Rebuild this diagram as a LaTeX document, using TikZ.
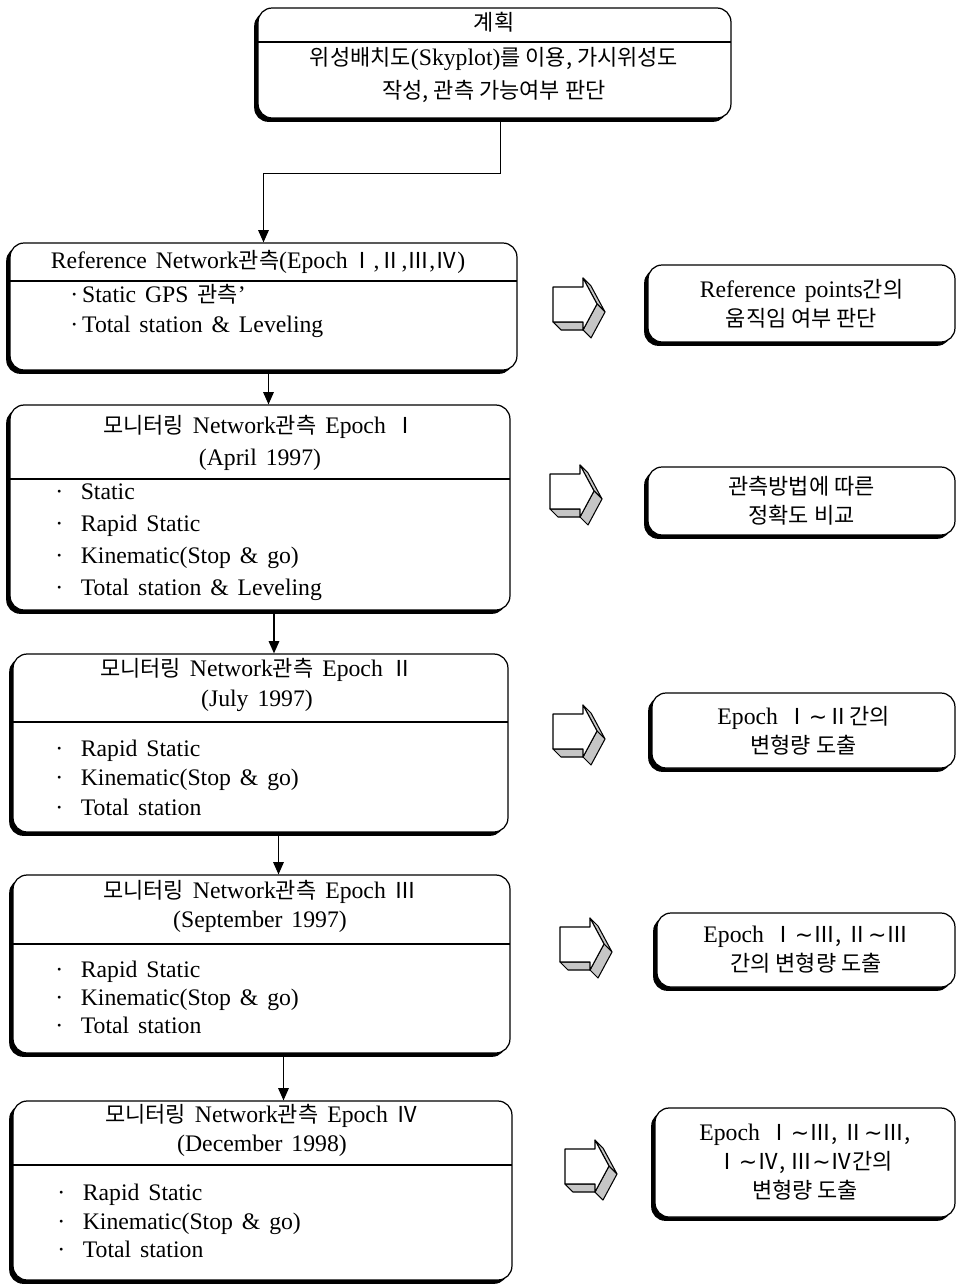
\documentclass[tikz,border=0pt]{standalone}
\usepackage{fontspec}
\setmainfont{Liberation Serif}[Scale=1.08, WordSpace=1.5]
\newfontfamily\krfont{Noto Sans CJK KR}
\newfontfamily\symfont{DejaVu Sans}
\usetikzlibrary{positioning,arrows.meta,shadows,calc}
\newcommand{\kor}[1]{{\krfont #1}}
\newcommand{\wave}{{\symfont ∼}}
\newcommand{\bul}{·\hspace{10pt}}
% 3D block arrow pointing right, #1 = middle of its left edge
\newcommand{\blockarrow}[1]{%
  \begin{scope}[shift={#1}, line width=0.6pt, line join=round]
    \filldraw[fill=gray!45] (0,18) -- (30,18) -- (38,26) -- (8,26) -- cycle;
    \filldraw[fill=gray!45] (30,-26) -- (44,0) -- (52,8) -- (38,-18) -- cycle;
    \filldraw[fill=gray!45] (44,0) -- (30,26) -- (38,34) -- (52,8) -- cycle;
    \filldraw[fill=white] (0,-17) -- (30,-17) -- (30,-26) -- (44,0) -- (30,26) -- (30,18) -- (0,18) -- cycle;
  \end{scope}}

\begin{document}
\begin{tikzpicture}[x=0.02cm, y=-0.02cm, font=\fontsize{12.5}{16.5}\selectfont,
    box/.style={draw, line width=0.7pt, fill=white, rounded corners=8pt,
      drop shadow={shadow xshift=-2.2pt, shadow yshift=-2.2pt, fill=black, opacity=1}},
    txt/.style={inner sep=0pt, text height=1.7ex, text depth=0.5ex},
    item/.style={txt, anchor=west},
    side/.style={box, align=center},
    rule/.style={line width=1.1pt},
    flow/.style={line width=0.8pt, -{Triangle[length=7pt,width=6pt]}}]
    \useasboundingbox (0,0) rectangle (958,1284);

    % Planning
    \node[box, minimum width=9.46cm, minimum height=2.2cm] (plan) at (494.5,63) {};
    \node[txt] (plan-t) at (494,25) {\kor{계획}};
    \draw[rule] (258,42) -- (731,42);
    \node[txt] (plan-a) at (494,60) {\kor{위성배치도}(Skyplot)\kor{를 이용, 가시위성도}};
    \node[txt] (plan-b) at (494,93) {\kor{작성, 관측 가능여부 판단}};

    % Reference network
    \node[box, minimum width=10.14cm, minimum height=2.54cm] (refnet) at (263.5,306.5) {};
    \node[txt] (refnet-t) at (258,263) {Reference Network\kor{관측}(Epoch\,\kor{Ⅰ},\kor{Ⅱ},\kor{Ⅲ},\kor{Ⅳ})};
    \draw[rule] (10,281) -- (517,281);
    \node[item] (refnet-a) at (70,297) {·\,Static GPS \kor{관측}'};
    \node[item] (refnet-b) at (70,327) {·\,Total station \& Leveling};

    % Epoch I
    \node[box, minimum width=10cm, minimum height=4.1cm] (ep1) at (260,507.5) {};
    \node[txt] (ep1-t) at (260,428) {\kor{모니터링} Network\kor{관측} Epoch \kor{Ⅰ}};
    \node[txt] (ep1-d) at (260,460) {(April 1997)};
    \draw[rule] (10,479) -- (510,479);
    \node[item] (ep1-a) at (55,494) {\bul Static};
    \node[item] (ep1-b) at (55,526) {\bul Rapid Static};
    \node[item] (ep1-c) at (55,558) {\bul Kinematic(Stop \& go)};
    \node[item] (ep1-e) at (55,590) {\bul Total station \& Leveling};

    % Epoch II
    \node[box, minimum width=9.9cm, minimum height=3.56cm] (ep2) at (260.5,743) {};
    \node[txt] (ep2-t) at (257,671) {\kor{모니터링} Network\kor{관측} Epoch \kor{Ⅱ}};
    \node[txt] (ep2-d) at (257,701) {(July 1997)};
    \draw[rule] (13,722) -- (508,722);
    \node[item] (ep2-a) at (55,751) {\bul Rapid Static};
    \node[item] (ep2-b) at (55,780) {\bul Kinematic(Stop \& go)};
    \node[item] (ep2-c) at (55,810) {\bul Total station};

    % Epoch III
    \node[box, minimum width=9.94cm, minimum height=3.56cm] (ep3) at (261.5,964) {};
    \node[txt] (ep3-t) at (260,893) {\kor{모니터링} Network\kor{관측} Epoch \kor{Ⅲ}};
    \node[txt] (ep3-d) at (260,922) {(September 1997)};
    \draw[rule] (13,944) -- (510,944);
    \node[item] (ep3-a) at (55,972) {\bul Rapid Static};
    \node[item] (ep3-b) at (55,1000) {\bul Kinematic(Stop \& go)};
    \node[item] (ep3-c) at (55,1028) {\bul Total station};

    % Epoch IV
    \node[box, minimum width=9.98cm, minimum height=3.58cm] (ep4) at (262.5,1190.5) {};
    \node[txt] (ep4-t) at (262,1117) {\kor{모니터링} Network\kor{관측} Epoch \kor{Ⅳ}};
    \node[txt] (ep4-d) at (262,1146) {(December 1998)};
    \draw[rule] (13,1165) -- (512,1165);
    \node[item] (ep4-a) at (57,1195) {\bul Rapid Static};
    \node[item] (ep4-b) at (57,1224) {\bul Kinematic(Stop \& go)};
    \node[item] (ep4-c) at (57,1252) {\bul Total station};

    % Results
    \node[side, minimum width=6.14cm, minimum height=1.54cm] (res1) at (801.5,303.5) {Reference points\kor{간의}\\\kor{움직임 여부 판단}};
    \node[side, minimum width=6.14cm, minimum height=1.36cm] (res2) at (801.5,501) {\kor{관측방법에 따른}\\\kor{정확도 비교}};
    \node[side, minimum width=6.06cm, minimum height=1.5cm] (res3) at (803.5,730.5) {Epoch \kor{Ⅰ}\wave\kor{Ⅱ간의}\\\kor{변형량 도출}};
    \node[side, minimum width=5.96cm, minimum height=1.48cm] (res4) at (806,950) {Epoch \kor{Ⅰ}\wave\kor{Ⅲ, Ⅱ}\wave\kor{Ⅲ}\\\kor{간의 변형량 도출}};
    \node[side, minimum width=6cm, minimum height=2.18cm] (res5) at (805,1162.5) {Epoch \kor{Ⅰ}\wave\kor{Ⅲ, Ⅱ}\wave\kor{Ⅲ,}\\\kor{Ⅰ}\wave\kor{Ⅳ, Ⅲ}\wave\kor{Ⅳ간의}\\\kor{변형량 도출}};

    % Block arrows
    \blockarrow{(553,304)}
    \blockarrow{(550,491)}
    \blockarrow{(553,731)}
    \blockarrow{(560,944)}
    \blockarrow{(565,1166)}

    % Flow
    \coordinate (c0) at ($(plan.south)+(6,0)$);
    \draw[flow] (c0) -- ++(0,55) -| (refnet.north);
    \coordinate (c1) at ($(refnet.south)+(5,0)$);
    \draw[flow] (c1) -- (c1 |- ep1.north);
    \coordinate (c2) at ($(ep1.south)+(14,0)$);
    \draw[flow] (c2) -- (c2 |- ep2.north);
    \coordinate (c3) at ($(ep2.south)+(18,0)$);
    \draw[flow] (c3) -- (c3 |- ep3.north);
    \coordinate (c4) at ($(ep3.south)+(22,0)$);
    \draw[flow] (c4) -- (c4 |- ep4.north);
\end{tikzpicture}
\end{document}
